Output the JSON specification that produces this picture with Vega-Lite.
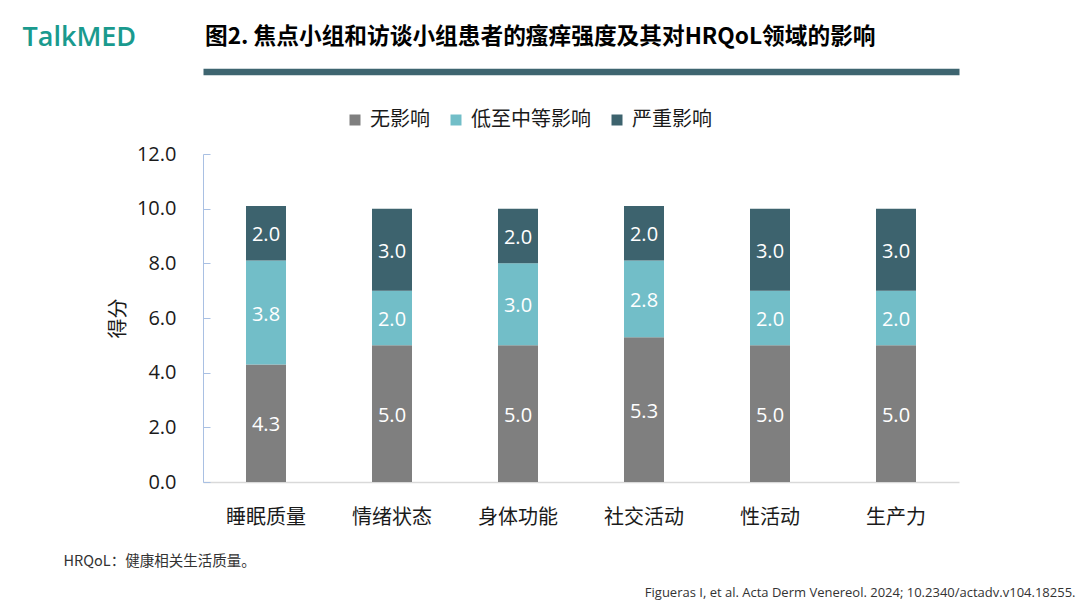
{
  "$schema": "https://vega.github.io/schema/vega-lite/v6.json",
  "width": 756,
  "height": 328,
  "autosize": {"type": "none"},
  "padding": {"left": 203, "top": 154, "right": 121, "bottom": 126},
  "background": "white",
  "config": {
    "font": "Open Sans, Noto Sans CJK SC",
    "view": {"stroke": null}
  },
  "title": {
    "text": "图2. 焦点小组和访谈小组患者的瘙痒强度及其对HRQoL领域的影响",
    "anchor": "start",
    "frame": "group",
    "font": "Noto Sans CJK SC",
    "fontSize": 22.7,
    "fontWeight": "bold",
    "color": "#000000",
    "dx": 2,
    "offset": -25
  },
  "data": {
    "values": [
      {"domain": "睡眠质量", "level": "无影响", "order": 1, "value": 4.3},
      {"domain": "睡眠质量", "level": "低至中等影响", "order": 2, "value": 3.8},
      {"domain": "睡眠质量", "level": "严重影响", "order": 3, "value": 2.0},
      {"domain": "情绪状态", "level": "无影响", "order": 1, "value": 5.0},
      {"domain": "情绪状态", "level": "低至中等影响", "order": 2, "value": 2.0},
      {"domain": "情绪状态", "level": "严重影响", "order": 3, "value": 3.0},
      {"domain": "身体功能", "level": "无影响", "order": 1, "value": 5.0},
      {"domain": "身体功能", "level": "低至中等影响", "order": 2, "value": 3.0},
      {"domain": "身体功能", "level": "严重影响", "order": 3, "value": 2.0},
      {"domain": "社交活动", "level": "无影响", "order": 1, "value": 5.3},
      {"domain": "社交活动", "level": "低至中等影响", "order": 2, "value": 2.8},
      {"domain": "社交活动", "level": "严重影响", "order": 3, "value": 2.0},
      {"domain": "性活动", "level": "无影响", "order": 1, "value": 5.0},
      {"domain": "性活动", "level": "低至中等影响", "order": 2, "value": 2.0},
      {"domain": "性活动", "level": "严重影响", "order": 3, "value": 3.0},
      {"domain": "生产力", "level": "无影响", "order": 1, "value": 5.0},
      {"domain": "生产力", "level": "低至中等影响", "order": 2, "value": 2.0},
      {"domain": "生产力", "level": "严重影响", "order": 3, "value": 3.0}
    ]
  },
  "transform": [
    {"stack": "value", "groupby": ["domain"], "sort": [{"field": "order", "order": "ascending"}], "as": ["v0", "v1"]}
  ],
  "layer": [
    {
      "mark": {"type": "bar", "width": 40},
      "encoding": {
        "x": {
          "field": "domain", "type": "nominal", "sort": null,
          "scale": {"paddingInner": 0.68, "paddingOuter": 0.34},
          "axis": {
            "orient": "bottom", "labelAngle": 0, "ticks": false,
            "domainColor": "#D9D9D9", "domainWidth": 1.3,
            "labelFontSize": 20, "labelColor": "#1A1A1A", "labelPadding": 25,
            "labelFont": "Noto Sans CJK SC",
            "title": "HRQoL：健康相关生活质量。",
            "titleFont": "Noto Sans CJK SC",
            "titleFontSize": 14.5, "titleFontWeight": "normal", "titleColor": "#333333",
            "titleAnchor": "start", "titleAlign": "left", "titleBaseline": "middle",
            "titleX": -140, "titleY": 79
          }
        },
        "y": {
          "field": "v1", "type": "quantitative",
          "scale": {"domain": [0, 12]},
          "axis": {
            "values": [0, 2, 4, 6, 8, 10, 12], "format": ".1f", "grid": false,
            "domainColor": "#A9C0E3", "tickColor": "#A9C0E3", "tickSize": -7,
            "labelFontSize": 20, "labelColor": "#1A1A1A", "labelPadding": 34,
            "title": "得分", "titleFont": "Noto Sans CJK SC", "titleFontSize": 20,
            "titleFontWeight": "normal", "titleColor": "#1A1A1A", "titlePadding": 8
          }
        },
        "y2": {"field": "v0"},
        "color": {
          "field": "level", "type": "nominal",
          "scale": {"domain": ["无影响", "低至中等影响", "严重影响"], "range": ["#7F7F7F", "#72BEC8", "#3D636E"]},
          "legend": {
            "orient": "none", "direction": "horizontal", "legendX": 142, "legendY": -44,
            "title": null, "symbolType": "square", "symbolSize": 121, "symbolStrokeWidth": 0,
            "labelFontSize": 20, "labelFont": "Noto Sans CJK SC", "labelColor": "#1A1A1A",
            "labelOffset": 5, "columnPadding": 16
          }
        }
      }
    },
    {
      "transform": [
        {"fold": ["v0", "v1"], "as": ["edge", "pos"]}
      ],
      "mark": {"type": "text", "color": "white", "fontSize": 20, "baseline": "middle", "font": "Open Sans", "dy": 2},
      "encoding": {
        "x": {
          "field": "domain", "type": "nominal", "sort": null,
          "axis": {
            "orient": "top", "labels": false, "ticks": false, "domain": true,
            "domainColor": "#3E6570", "domainWidth": 6.5, "offset": 82.5,
            "title": "TalkMED", "titleColor": "#1A9A8E", "titleFontSize": 27,
            "titleFont": "Open Sans", "titleFontWeight": 600,
            "titleAlign": "left", "titleAnchor": "start", "titleBaseline": "middle",
            "titleX": -181, "titleY": -34
          }
        },
        "y": {
          "aggregate": "mean", "field": "pos", "type": "quantitative",
          "axis": {
            "orient": "right", "labels": false, "ticks": false, "domain": false, "grid": false,
            "title": "Figueras I, et al.  Acta Derm Venereol. 2024; 10.2340/actadv.v104.18255.",
            "titleAngle": 0, "titleAlign": "right", "titleBaseline": "middle",
            "titleX": 116, "titleY": 438, "titleFontSize": 13, "titleFontWeight": "normal",
            "titleColor": "#333333", "titleFont": "Open Sans"
          }
        },
        "detail": {"field": "level", "type": "nominal"},
        "text": {"aggregate": "mean", "field": "value", "type": "quantitative", "format": ".1f"}
      }
    }
  ],
  "resolve": {"axis": {"x": "independent", "y": "independent"}}
}
